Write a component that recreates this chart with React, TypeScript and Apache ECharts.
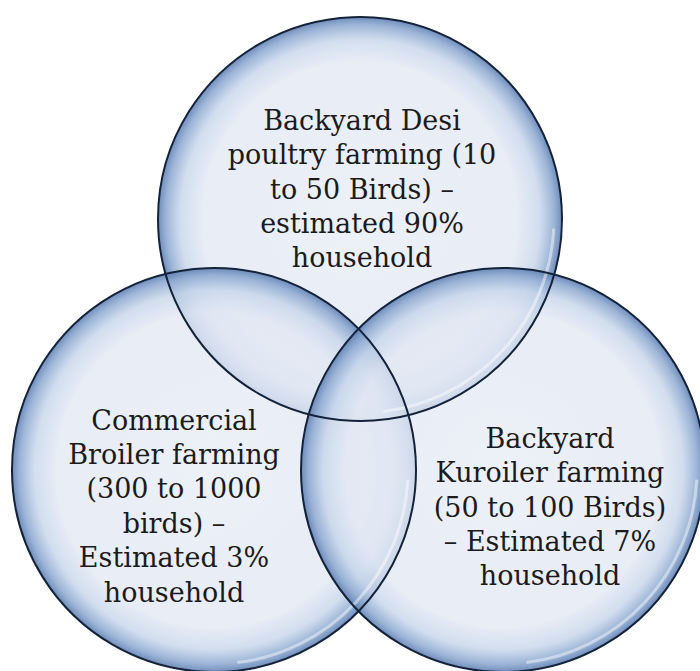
import React, { useEffect, useRef } from "react";
import * as echarts from "echarts";

// Data: the three sets of the Venn diagram
const setNames: string[] = [
  "Backyard Desi\npoultry farming (10\nto 50 Birds) –\nestimated 90%\nhousehold",
  "Commercial\nBroiler farming\n(300 to 1000\nbirds) –\nEstimated 3%\nhousehold",
  "Backyard\nKuroiler farming\n(50 to 100 Birds)\n– Estimated 7%\nhousehold",
];
const householdShare: number[] = [90, 3, 7];

// Layout (pixels)
const circleCenters: [number, number][] = [
  [360, 219],
  [214, 470],
  [503, 470],
];
const circleRadius = 202;
const labelCenters: [number, number][] = [
  [362, 189],
  [174, 506],
  [550, 507],
];

export default function App() {
  const ref = useRef<HTMLDivElement>(null);
  useEffect(() => {
    document.body.style.margin = "0";
    if (!ref.current) return;
    const chart = echarts.init(ref.current, null, { renderer: "svg" });
    const fills: any[] = circleCenters.map(([cx, cy]) => ({
      type: "circle",
      z: 1,
      shape: { cx, cy, r: circleRadius },
      style: {
        fill: {
          type: "radial",
          x: 0.5,
          y: 0.5,
          r: 0.5,
          colorStops: [
            { offset: 0, color: "rgba(232,237,246,0.8)" },
            { offset: 0.78, color: "rgba(226,232,243,0.8)" },
            { offset: 0.89, color: "rgba(198,213,234,0.8)" },
            { offset: 0.96, color: "rgba(140,168,208,0.85)" },
            { offset: 1, color: "rgba(95,128,180,0.9)" },
          ],
        },
      },
    }));
    const highlights: any[] = circleCenters.map(([cx, cy]) => ({
      type: "arc",
      z: 2,
      shape: {
        cx,
        cy,
        r: circleRadius - 8,
        startAngle: 0.05,
        endAngle: 1.45,
      },
      style: { stroke: "rgba(255,255,255,0.45)", lineWidth: 3, fill: "none" },
    }));
    const strokes: any[] = circleCenters.map(([cx, cy]) => ({
      type: "circle",
      z: 3,
      shape: { cx, cy, r: circleRadius },
      style: { fill: "none", stroke: "#14233a", lineWidth: 2 },
    }));
    const texts: any[] = setNames.map((t, i) => ({
      type: "text",
      z: 4,
      x: labelCenters[i][0],
      y: labelCenters[i][1],
      style: {
        text: t,
        font: '27px "DejaVu Serif"',
        fill: "#1b1b1b",
        align: "center",
        verticalAlign: "middle",
        lineHeight: 34.4,
      },
    }));
    chart.setOption({
      animation: false,
      backgroundColor: "#ffffff",
      graphic: { elements: [...fills, ...highlights, ...strokes, ...texts] },
    });
    return () => chart.dispose();
  }, []);
  return <div ref={ref} style={{ width: 700, height: 671 }} data-shares={householdShare.join(",")} />;
}
